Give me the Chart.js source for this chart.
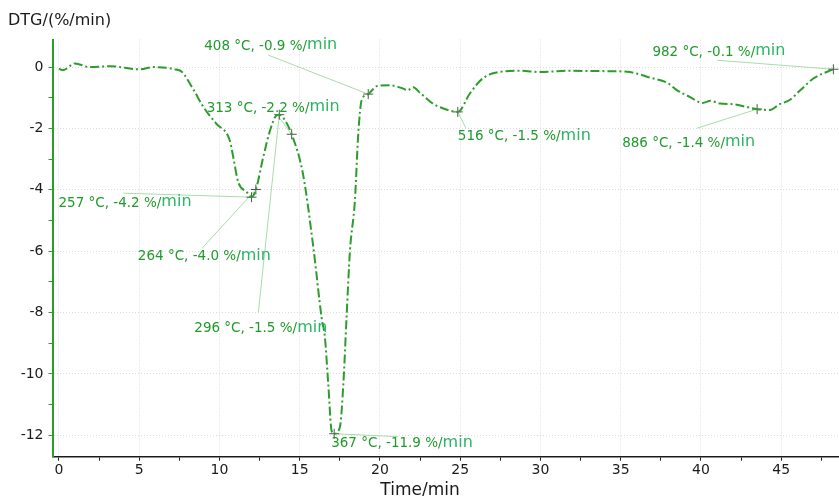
<!DOCTYPE html>
<html>
<head>
<meta charset="utf-8">
<title>DTG curve</title>
<script src="https://cdn.jsdelivr.net/npm/chart.js@4.4.1/dist/chart.umd.min.js"></script>
<style>
  body { margin: 0; background: #fff; }
  #dtg { display: block; }
</style>
</head>
<body>
<canvas id="dtg" width="839" height="496"></canvas>
<script>
// curve: time (min) and DTG (%/min)
const timeMin = [0, 0.25, 1.0, 1.9, 3.2, 5.0, 5.9, 7.3, 7.65, 8.4, 9.0, 9.8, 10.65, 10.86, 11.17, 11.7, 12.0, 12.27,
  12.73, 13.15, 13.56, 13.73, 14.08, 14.5, 15.2, 15.85, 16.37, 16.57, 16.78, 16.99, 17.15, 17.5, 17.72, 17.92, 18.13,
  18.44, 18.65, 18.86, 19.27, 19.8, 20.6, 21.45, 21.7, 22.07, 22.5, 23.3, 23.95, 24.85, 25.6, 26.4, 27.5, 28.7, 30,
  31.8, 33.7, 35.4, 36, 36.8, 37.9, 38.5, 39.3, 40.1, 40.6, 41.2, 42, 42.85, 43.5, 44.3, 44.9, 45.5, 46.2, 47, 48.25];
const dtgValues = [-0.05, -0.1, 0.12, 0, 0.03, -0.07, 0, -0.08, -0.15, -0.75, -1.3, -1.84, -2.4, -2.93, -3.75, -4.07, -4.24, -3.99,
  -2.93, -2.07, -1.57, -1.55, -1.73, -2.19, -3.47, -5.87, -8.18, -8.8, -10.33, -11.86, -11.95, -11.75, -10.33, -8.16, -6.0,
  -4.35, -2.17, -1.08, -0.88, -0.62, -0.59, -0.7, -0.76, -0.66, -0.84, -1.19, -1.35, -1.46, -0.86, -0.37, -0.15, -0.12, -0.16,
  -0.12, -0.13, -0.15, -0.21, -0.34, -0.51, -0.75, -0.97, -1.17, -1.1, -1.19, -1.21, -1.3, -1.37, -1.4, -1.21, -1.08, -0.75, -0.37, -0.07];

// marked points
const markTime = [12.0, 12.27, 13.73, 14.5, 17.15, 19.27, 24.85, 43.5, 48.25];
const markDtg = [-4.24, -3.99, -1.55, -2.19, -11.95, -0.88, -1.46, -1.37, -0.07];
const markText = ['257 °C, -4.2 %/', '264 °C, -4.0 %/', '296 °C, -1.5 %/', '313 °C, -2.2 %/', '367 °C, -11.9 %/',
  '408 °C, -0.9 %/', '516 °C, -1.5 %/', '886 °C, -1.4 %/', '982 °C, -0.1 %/'];

// ticks
const xMajor = [0, 5, 10, 15, 20, 25, 30, 35, 40, 45];
const xMinor = [2.5, 7.5, 12.5, 17.5, 22.5, 27.5, 32.5, 37.5, 42.5, 47.5];
const yMajor = [0, -2, -4, -6, -8, -10, -12];
const yMinor = [-1, -3, -5, -7, -9, -11];

// label placement (pixels from the marker): text left/middle, connector end
const textOff = [[-193, 6], [-118, 67], [-85, 214], [-85, -26], [-3, 10], [-164, -48], [0, 25], [-135, 34], [-181, -17]];
const lineOff = [[-128, -4], [-54, 59], [-21, 198], [-15, -20], [64, 3], [-100, -39], [8, 16], [-60, 19], [-116, -9]];

const GREEN = '#2a9d2a';
const FONT = '"DejaVu Sans", sans-serif';

function markPixel(chart, i) {
  const xs = chart.scales.x, ys = chart.scales.y;
  return [xs.getPixelForValue(markTime[i]), ys.getPixelForValue(markDtg[i])];
}

const notes = {
  id: 'notes',
  beforeDatasetsDraw(chart) {
    const ctx = chart.ctx;
    ctx.save();
    ctx.strokeStyle = '#a9dca9';
    ctx.lineWidth = 1;
    for (let i = 0; i < markTime.length; i++) {
      const [px, py] = markPixel(chart, i);
      ctx.beginPath();
      ctx.moveTo(px + lineOff[i][0], py + lineOff[i][1]);
      ctx.lineTo(px, py);
      ctx.stroke();
    }
    ctx.restore();
  },
  afterDraw(chart) {
    const ctx = chart.ctx;
    ctx.save();
    ctx.textBaseline = 'middle';
    ctx.textAlign = 'left';
    for (let i = 0; i < markTime.length; i++) {
      const [px, py] = markPixel(chart, i);
      const tx = px + textOff[i][0], ty = py + textOff[i][1];
      ctx.font = '13.5px ' + FONT;
      ctx.fillStyle = '#1f9a2b';
      ctx.fillText(markText[i], tx, ty);
      const w = ctx.measureText(markText[i]).width;
      ctx.font = '16px ' + FONT;
      ctx.fillStyle = '#2bb564';
      ctx.fillText('min', tx + w, ty - 1);
    }
    // axis names
    ctx.fillStyle = '#1a1a1a';
    ctx.textBaseline = 'alphabetic';
    ctx.font = '16px ' + FONT;
    ctx.fillText('DTG/(%/min)', 8, 25);
    ctx.textAlign = 'center';
    ctx.font = '17px ' + FONT;
    ctx.fillText('Time/min', 420, 495);
    ctx.restore();
  }
};

new Chart('dtg', {
  type: 'scatter',
  data: {
    datasets: [{
      data: timeMin.map((t, i) => ({ x: t, y: dtgValues[i] })),
      showLine: true,
      borderColor: GREEN,
      borderWidth: 2,
      borderDash: [9, 3, 2, 3],
      pointRadius: 0,
      cubicInterpolationMode: 'monotone'
    }, {
      data: markTime.map((t, i) => ({ x: t, y: markDtg[i] })),
      showLine: false,
      pointStyle: 'cross',
      pointRadius: 5,
      borderColor: '#555',
      borderWidth: 1
    }]
  },
  options: {
    responsive: false,
    animation: false,
    devicePixelRatio: 1,
    layout: { autoPadding: false, padding: { top: 39.5, left: 0, right: 0, bottom: 0 } },
    plugins: { legend: { display: false }, tooltip: { enabled: false } },
    scales: {
      x: {
        type: 'linear',
        min: -0.4,
        max: 48.6,
        afterBuildTicks: s => { s.ticks = xMajor.concat(xMinor).sort((a, b) => a - b).map(v => ({ value: v })); },
        afterFit: s => { s.height = 39.3; s.paddingLeft = 0; s.paddingRight = 0; },
        ticks: {
          font: { family: FONT, size: 14 },
          color: '#1a1a1a',
          padding: 1,
          maxRotation: 0,
          autoSkip: false,
          callback: v => xMajor.includes(v) ? v : ''
        },
        grid: {
          color: c => c.tick && xMajor.includes(c.tick.value) ? '#dadada' : 'rgba(0,0,0,0)',
          tickColor: '#1a1a1a',
          tickLength: 4
        },
        border: { display: true, color: '#1a1a1a', width: 1.5, dash: [1, 2] }
      },
      y: {
        type: 'linear',
        min: -12.7,
        max: 0.9,
        afterBuildTicks: s => { s.ticks = yMajor.concat(yMinor).sort((a, b) => a - b).map(v => ({ value: v })); },
        afterFit: s => { s.width = 52.5; },
        ticks: {
          font: { family: FONT, size: 14 },
          color: '#1a1a1a',
          padding: 5,
          autoSkip: false,
          callback: v => yMajor.includes(v) ? v : ''
        },
        grid: {
          color: c => c.tick && yMajor.includes(c.tick.value) ? '#dadada' : 'rgba(0,0,0,0)',
          tickColor: GREEN,
          tickLength: 4
        },
        border: { display: true, color: GREEN, width: 2, dash: [1, 2] }
      }
    }
  },
  plugins: [notes]
});
</script>
</body>
</html>
